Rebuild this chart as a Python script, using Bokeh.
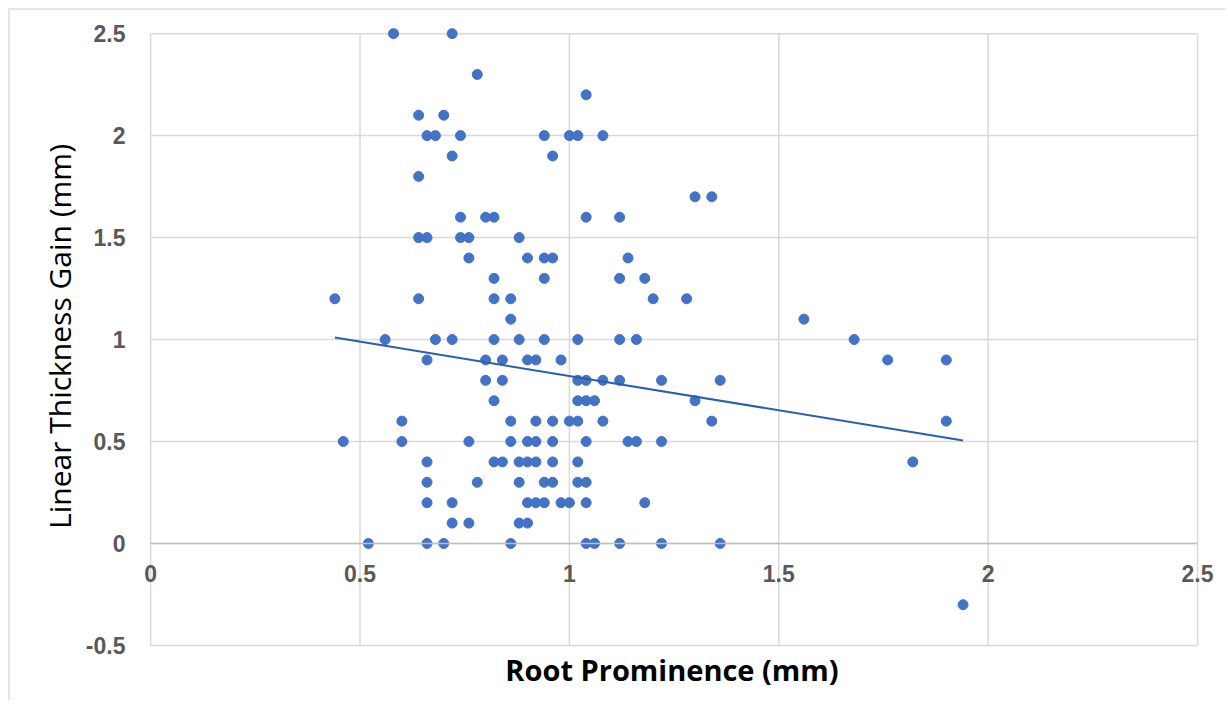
from bokeh.plotting import figure
from bokeh.models import Range1d, FixedTicker, LinearAxis, ColumnDataSource
from bokeh.embed import file_html
from bokeh.resources import INLINE

# Root Prominence (mm)
root_prominence = [
    0.58, 0.72,
    0.78,
    1.04,
    0.64, 0.70,
    0.66, 0.68, 0.74, 0.94, 1.00, 1.02, 1.08,
    0.72, 0.96,
    0.64,
    1.30, 1.34,
    0.74, 0.80, 0.82, 1.04, 1.12,
    0.64, 0.66, 0.74, 0.76, 0.88,
    0.76, 0.90, 0.94, 0.96, 1.14,
    0.82, 0.94, 1.12, 1.18,
    0.44, 0.64, 0.82, 0.86, 1.20, 1.28,
    0.86, 1.56,
    0.56, 0.68, 0.72, 0.82, 0.88, 0.94, 1.02, 1.12, 1.16, 1.68,
    0.66, 0.80, 0.84, 0.90, 0.92, 0.98, 1.76, 1.90,
    0.80, 0.84, 1.02, 1.04, 1.08, 1.12, 1.22, 1.36,
    0.82, 1.02, 1.04, 1.06, 1.30,
    0.60, 0.86, 0.92, 0.96, 1.00, 1.02, 1.08, 1.34, 1.90,
    0.46, 0.60, 0.76, 0.86, 0.90, 0.92, 0.96, 1.04, 1.14, 1.16, 1.22,
    0.66, 0.82, 0.84, 0.88, 0.90, 0.92, 0.96, 1.02, 1.82,
    0.66, 0.78, 0.88, 0.94, 0.96, 1.02, 1.04,
    0.66, 0.72, 0.90, 0.92, 0.94, 0.98, 1.00, 1.04, 1.18,
    0.72, 0.76, 0.88, 0.90,
    0.52, 0.66, 0.70, 0.86, 1.04, 1.06, 1.12, 1.22, 1.36,
    1.94,
]
# Linear Thickness Gain (mm)
thickness_gain = (
    [2.5] * 2 + [2.3] * 1 + [2.2] * 1 + [2.1] * 2 + [2.0] * 7 + [1.9] * 2 + [1.8] * 1
    + [1.7] * 2 + [1.6] * 5 + [1.5] * 5 + [1.4] * 5 + [1.3] * 4 + [1.2] * 6 + [1.1] * 2
    + [1.0] * 10 + [0.9] * 8 + [0.8] * 8 + [0.7] * 5 + [0.6] * 9 + [0.5] * 11
    + [0.4] * 9 + [0.3] * 7 + [0.2] * 9 + [0.1] * 4 + [0.0] * 9 + [-0.3] * 1
)

# linear trendline as drawn in the chart
trend_x = [0.44, 1.94]
trend_y = [1.01, 0.505]

x_ticks = [0, 0.5, 1, 1.5, 2, 2.5]
x_tick_labels = ["0", "0.5", "1", "1.5", "2", "2.5"]
y_ticks = [-0.5, 0, 0.5, 1, 1.5, 2, 2.5]
y_tick_labels = ["-0.5", "0", "0.5", "1", "1.5", "2", "2.5"]

x_title = "Root Prominence (mm)"
y_title = "Linear Thickness Gain (mm)"

X_MIN, X_MAX = 0, 2.5
Y_MIN, Y_MAX = -0.5, 2.5

p = figure(
    width=1225, height=700,
    # a little room around the plot area so edge markers and crossing-axis labels are not clipped
    x_range=Range1d(X_MIN - 0.06, X_MAX + 0.05), y_range=Range1d(Y_MIN - 0.01, Y_MAX + 0.04),
    output_backend="svg", toolbar_location=None,
    min_border_left=125, min_border_top=25, min_border_right=7, min_border_bottom=53,
)
# light chart-area border along the top and left edges (as in the screenshot)
p.styles = {
    "background-color": "white",
    "box-shadow": "inset 8px 8px 0 0 white, inset 10px 10px 0 0 #e4e4e4",
}
p.background_fill_color = "white"
p.border_fill_color = None
p.outline_line_color = None
p.xgrid.visible = False
p.ygrid.visible = False

# grid lines (also forming the plot-area box), limited to the axis extents
grid_color = "#d9d9d9"
p.segment(x0=x_ticks, y0=[Y_MIN] * len(x_ticks), x1=x_ticks, y1=[Y_MAX] * len(x_ticks),
          line_color=grid_color, line_width=1.5)
p.segment(x0=[X_MIN] * len(y_ticks), y0=y_ticks, x1=[X_MAX] * len(y_ticks), y1=y_ticks,
          line_color=grid_color, line_width=1.5)

tick_font = "Liberation Sans"

# horizontal axis crossing at y = 0
xa = p.xaxis[0]
xa.fixed_location = 0
xa.bounds = (X_MIN, X_MAX)
xa.ticker = FixedTicker(ticks=x_ticks)
xa.major_label_overrides = {t: l for t, l in zip(x_ticks, x_tick_labels)}
xa.axis_line_color = "#bfbfbf"
xa.axis_line_width = 1.5
xa.major_tick_line_color = None
xa.minor_tick_line_color = None
xa.major_tick_out = 0
xa.major_label_standoff = 22
xa.major_label_text_font = tick_font
xa.major_label_text_font_style = "bold"
xa.major_label_text_font_size = "23px"
xa.major_label_text_color = "#595959"

# bottom axis for the title only
xt = LinearAxis(
    ticker=FixedTicker(ticks=[]),
    axis_label=x_title,
    axis_line_color=None,
    major_tick_line_color=None,
    minor_tick_line_color=None,
    major_tick_out=0,
    major_label_standoff=0,
    axis_label_standoff=2,
    axis_label_text_font="Open Sans",
    axis_label_text_font_style="bold",
    axis_label_text_font_size="29px",
    axis_label_text_color="#000000",
)
p.add_layout(xt, "below")

ya = p.yaxis[0]
ya.ticker = FixedTicker(ticks=y_ticks)
ya.major_label_overrides = {t: l for t, l in zip(y_ticks, y_tick_labels)}
ya.axis_line_color = None
ya.major_tick_line_color = None
ya.minor_tick_line_color = None
ya.major_tick_out = 0
ya.major_label_standoff = 0
ya.major_label_text_font = tick_font
ya.major_label_text_font_style = "bold"
ya.major_label_text_font_size = "23px"
ya.major_label_text_color = "#595959"
ya.axis_label = y_title
ya.axis_label_standoff = 3
ya.axis_label_text_font = "Open Sans"
ya.axis_label_text_font_style = "normal"
ya.axis_label_text_font_size = "30px"
ya.axis_label_text_color = "#000000"

src = ColumnDataSource(dict(x=root_prominence, y=thickness_gain))
p.scatter("x", "y", source=src, size=10, fill_color="#4472C4", line_color="#4472C4")
p.line(trend_x, trend_y, line_color="#2F5EA8", line_width=2)

open("out.html", "w").write(file_html(p, INLINE))
